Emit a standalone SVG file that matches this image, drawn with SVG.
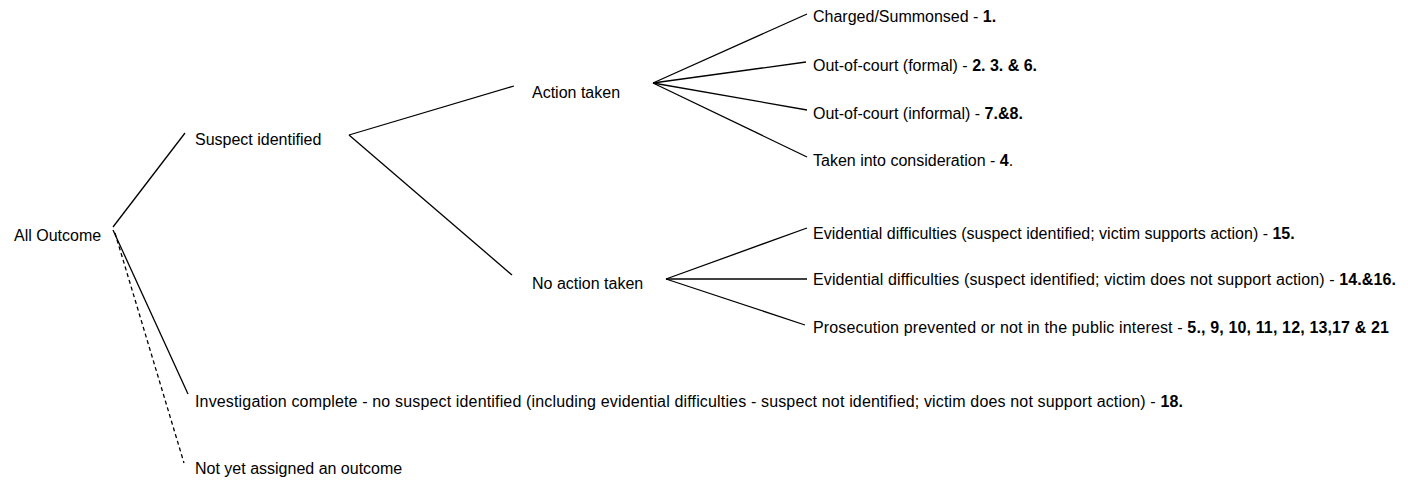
<svg xmlns="http://www.w3.org/2000/svg" width="1408" height="480" viewBox="0 0 1408 480">
<style>
text{font-family:"Liberation Sans",Arial,sans-serif;font-size:16px;fill:#000}
.b{font-weight:bold}
.c line{stroke:#000;stroke-width:1.3;fill:none}
.c .d{stroke-dasharray:4 3}
</style>
<rect width="1408" height="480" fill="#fff"/>
<g id="connectors" class="c">
<line x1="113" y1="227" x2="185" y2="133"/>
<line x1="113" y1="230" x2="188" y2="394"/>
<line class="d" x1="115" y1="233" x2="184" y2="463"/>
<line x1="349" y1="135" x2="514" y2="86"/>
<line x1="349" y1="135" x2="512" y2="275"/>
<line x1="653" y1="83" x2="807" y2="14"/>
<line x1="653" y1="83" x2="806" y2="62"/>
<line x1="653" y1="83" x2="807" y2="110"/>
<line x1="653" y1="83" x2="807" y2="157"/>
<line x1="666" y1="279" x2="807" y2="228"/>
<line x1="666" y1="279" x2="807" y2="279"/>
<line x1="666" y1="279" x2="805" y2="325"/>
</g>
<g id="all-outcome"><text x="14" y="241">All Outcome</text></g>
<g id="suspect-identified"><text x="195" y="145">Suspect identified</text></g>
<g id="action-taken"><text x="532" y="98">Action taken</text></g>
<g id="no-action-taken"><text x="532" y="289">No action taken</text></g>
<g id="charged"><text x="813" y="22">Charged/Summonsed - <tspan class="b">1.</tspan></text></g>
<g id="formal"><text x="813" y="71">Out-of-court (formal) - <tspan class="b">2. 3. &amp; 6.</tspan></text></g>
<g id="informal"><text x="813" y="119">Out-of-court (informal) - <tspan class="b">7.&amp;8.</tspan></text></g>
<g id="tic"><text x="813" y="166">Taken into consideration - <tspan class="b">4</tspan>.</text></g>
<g id="evid1"><text x="813" y="239">Evidential difficulties (suspect identified; victim supports action) - <tspan class="b">15.</tspan></text></g>
<g id="evid2"><text x="813" y="285" textLength="583">Evidential difficulties (suspect identified; victim does not support action) - <tspan class="b">14.&amp;16.</tspan></text></g>
<g id="prosecution"><text x="813" y="333" textLength="576">Prosecution prevented or not in the public interest - <tspan class="b">5., 9, 10, 11, 12, 13,17 &amp; 21</tspan></text></g>
<g id="investigation"><text x="195" y="407" textLength="988">Investigation complete - no suspect identified (including evidential difficulties - suspect not identified; victim does not support action) - <tspan class="b">18.</tspan></text></g>
<g id="not-yet"><text x="195" y="474">Not yet assigned an outcome</text></g>
</svg>
